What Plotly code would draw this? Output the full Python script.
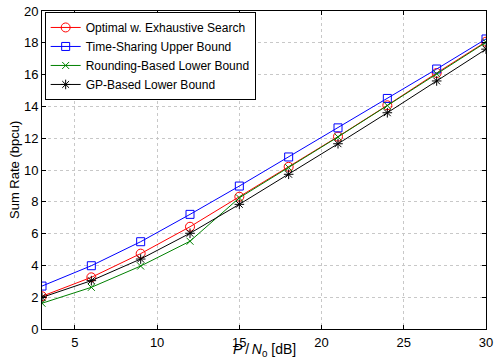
import plotly.graph_objects as go

snr_db = [3, 6, 9, 12, 15, 18, 21, 24, 27, 30]
optimal = [2.06, 3.25, 4.74, 6.43, 8.32, 10.2, 12.1, 14.07, 16.1, 18.07]
time_sharing = [2.7, 3.98, 5.49, 7.21, 8.99, 10.82, 12.65, 14.5, 16.35, 18.24]
rounding = [1.62, 2.62, 3.96, 5.52, 8.25, 10.15, 12.08, 14.05, 16.05, 18.03]
gp_based = [1.99, 3.04, 4.4, 6.02, 7.84, 9.73, 11.65, 13.6, 15.6, 17.6]

x_ticks = [5, 10, 15, 20, 25, 30]
y_ticks = [0, 2, 4, 6, 8, 10, 12, 14, 16, 18, 20]

series = [
    ("Optimal w. Exhaustive Search", optimal, "red", "circle-open", 9),
    ("Time-Sharing Upper Bound", time_sharing, "blue", "square-open", 8),
    ("Rounding-Based Lower Bound", rounding, "green", "x-thin-open", 7),
    ("GP-Based Lower Bound", gp_based, "black", "asterisk-open", 8),
]

fig = go.Figure()
for name, vals, color, sym, sz in series:
    fig.add_trace(go.Scatter(
        x=snr_db, y=vals, name=name, mode="lines+markers",
        line=dict(color=color, width=1),
        marker=dict(symbol=sym, size=sz, color=color, line=dict(color=color, width=1)),
    ))

axis_common = dict(
    showline=True, linecolor="black", linewidth=1, mirror="ticks",
    ticks="inside", ticklen=4, tickcolor="black",
    showgrid=True, gridcolor="#c8c8c8", griddash="dot", gridwidth=1,
    zeroline=False, tickfont=dict(size=13, color="black"), automargin=False,
)

fig.update_xaxes(range=[3, 30], tickvals=x_ticks, ticklabelstandoff=1, **axis_common)
fig.update_yaxes(range=[0, 20], tickvals=y_ticks, **axis_common)

fig.update_layout(
    width=494, height=358,
    margin=dict(l=42, r=8, t=11, b=29),
    paper_bgcolor="white", plot_bgcolor="white",
    font=dict(family="Liberation Sans, Arial, sans-serif", size=12, color="black"),
    showlegend=True,
    legend=dict(x=0.006, y=0.997, xanchor="left", yanchor="top",
                bgcolor="white", bordercolor="black", borderwidth=1,
                font=dict(size=12), tracegroupgap=0, itemwidth=30),
    annotations=[
        dict(text="<i>P</i>\u2009/\u2009<i>N</i><sub>0</sub> [dB]", xref="paper", yref="paper",
             x=0.5, y=-0.066, xanchor="center", yanchor="middle", showarrow=False,
             font=dict(size=14, color="black")),
        dict(text="Sum Rate (bpcu)", xref="paper", yref="paper",
             x=-28 / 444, y=0.5, xanchor="center", yanchor="middle", showarrow=False,
             textangle=-90, font=dict(size=13, color="black")),
    ],
)

fig.write_html("out.html", config={"displayModeBar": False},
               post_script="document.body.style.margin='0';document.body.style.overflow='hidden';")
